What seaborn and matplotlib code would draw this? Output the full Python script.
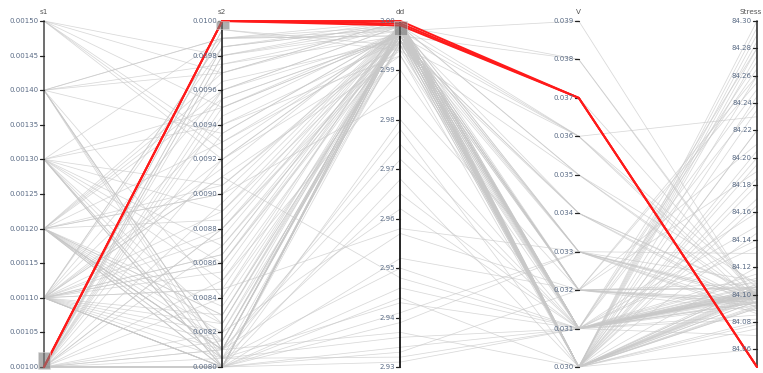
import numpy as np
import pandas as pd
import matplotlib
matplotlib.use("Agg")
import matplotlib.pyplot as plt
from matplotlib.patches import Rectangle
import seaborn as sns

# Ejes (dimensiones) del gráfico de coordenadas paralelas
dims = ["s1", "s2", "dd", "V", "Stress"]
dominios = {
    "s1": (0.0010, 0.0015),
    "s2": (0.0080, 0.0100),
    "dd": (2.93, 3.00),
    "V": (0.030, 0.039),
    "Stress": (84.047, 84.30),
}
ticks = {
    "s1": [0.00100, 0.00105, 0.00110, 0.00115, 0.00120, 0.00125, 0.00130, 0.00135, 0.00140, 0.00145, 0.00150],
    "s2": [0.0080, 0.0082, 0.0084, 0.0086, 0.0088, 0.0090, 0.0092, 0.0094, 0.0096, 0.0098, 0.0100],
    "dd": [2.93, 2.94, 2.95, 2.96, 2.97, 2.98, 2.99, 3.00],
    "V": [0.030, 0.031, 0.032, 0.033, 0.034, 0.035, 0.036, 0.037, 0.038, 0.039],
    "Stress": [84.06, 84.08, 84.10, 84.12, 84.14, 84.16, 84.18, 84.20, 84.22, 84.24, 84.26, 84.28, 84.30],
}
formatos = {"s1": "{:.5f}", "s2": "{:.4f}", "dd": "{:.2f}", "V": "{:.3f}", "Stress": "{:.2f}"}

# Datos (líneas grises)
s1 = [
    0.0010, 0.0011, 0.0012, 0.0010, 0.0013, 0.0011, 0.0014, 0.0010, 0.0012, 0.0015,
    0.0011, 0.0010, 0.0013, 0.0012, 0.0011, 0.0010, 0.0014, 0.0012, 0.0011, 0.0010,
    0.0013, 0.0010, 0.0012, 0.0011, 0.0015, 0.0010, 0.0012, 0.0014, 0.0011, 0.0013,
    0.0010, 0.0011, 0.0012, 0.0010, 0.0014, 0.0011, 0.0013, 0.0012, 0.0010, 0.0011,
    0.0015, 0.0012, 0.0010, 0.0011, 0.0013, 0.0014, 0.0010, 0.0012, 0.0011, 0.0010,
    0.0012, 0.0013, 0.0011, 0.0010, 0.0014, 0.0012, 0.0011, 0.0015, 0.0010, 0.0013,
    0.0011, 0.0010, 0.0012, 0.0014, 0.0011, 0.0013, 0.0010, 0.0012, 0.0011, 0.0015,
    0.0010, 0.0012, 0.0011, 0.0013, 0.0010, 0.0014, 0.0011, 0.0012, 0.0010, 0.0011,
    0.0011, 0.0010, 0.0012, 0.0013, 0.0010, 0.0011, 0.0012, 0.0014, 0.0010, 0.0011,
    0.0012, 0.0010, 0.0011, 0.0013, 0.0012, 0.0010, 0.0011, 0.0015, 0.0012, 0.0010,
    0.0011, 0.0013, 0.0010, 0.0012, 0.0011, 0.0014, 0.0010, 0.0012, 0.0011, 0.0010,
    0.0013, 0.0011, 0.0012, 0.0010, 0.0011, 0.0012, 0.0014, 0.0010, 0.0011, 0.0013,
]
s2 = [
    0.0080, 0.0099, 0.0081, 0.0095, 0.0080, 0.0088, 0.0097, 0.0082, 0.0080, 0.0093,
    0.0086, 0.0080, 0.0099, 0.0081, 0.0091, 0.0084, 0.0080, 0.0096, 0.0089, 0.0081,
    0.0080, 0.0098, 0.0083, 0.0080, 0.0092, 0.0087, 0.0081, 0.0099, 0.0080, 0.0094,
    0.0085, 0.0080, 0.0090, 0.0098, 0.0081, 0.0080, 0.0095, 0.0082, 0.0088, 0.0080,
    0.0097, 0.0081, 0.0092, 0.0080, 0.0086, 0.0099, 0.0080, 0.0083, 0.0094, 0.0081,
    0.0080, 0.0089, 0.0096, 0.0080, 0.0084, 0.0081, 0.0091, 0.0098, 0.0080, 0.0087,
    0.0082, 0.0080, 0.0093, 0.0081, 0.0099, 0.0085, 0.0080, 0.0090, 0.0081, 0.0095,
    0.0080, 0.0097, 0.0083, 0.0080, 0.0088, 0.0081, 0.0092, 0.0080, 0.0096, 0.0086,
    0.00815, 0.00975, 0.00805, 0.00905, 0.00985, 0.00845, 0.00825, 0.00935, 0.00995, 0.00865,
    0.00805, 0.00955, 0.00875, 0.00815, 0.00965, 0.00895, 0.00805, 0.00925, 0.00835, 0.00985,
    0.00855, 0.00805, 0.00945, 0.00815, 0.00915, 0.00975, 0.00805, 0.00885, 0.00825, 0.00995,
    0.00805, 0.00865, 0.00955, 0.00815, 0.00845, 0.00905, 0.00805, 0.00935, 0.00985, 0.00825,
]
dd = [
    2.999, 2.998, 2.937, 2.997, 2.999, 2.996, 3.000, 2.962, 2.998, 2.995,
    2.999, 2.944, 2.997, 2.998, 2.993, 3.000, 2.931, 2.999, 2.996, 2.975,
    2.998, 2.999, 2.997, 2.952, 2.994, 2.998, 2.999, 3.000, 2.968, 2.996,
    2.997, 2.999, 2.985, 2.998, 2.999, 2.934, 2.997, 2.995, 2.999, 2.998,
    3.000, 2.957, 2.998, 2.999, 2.996, 2.997, 2.941, 2.999, 2.993, 2.998,
    2.980, 2.999, 2.997, 2.998, 2.995, 2.999, 2.948, 3.000, 2.998, 2.996,
    2.999, 2.933, 2.997, 2.998, 2.999, 2.990, 2.996, 2.999, 2.972, 2.998,
    2.939, 2.999, 2.997, 2.998, 2.995, 2.999, 2.998, 2.946, 2.999, 2.997,
    2.998, 2.999, 2.996, 2.997, 3.000, 2.958, 2.999, 2.998, 2.994, 2.999,
    2.936, 2.997, 2.999, 2.998, 2.996, 2.999, 2.965, 2.998, 2.997, 2.999,
    2.999, 2.943, 2.998, 2.996, 2.999, 2.997, 2.978, 2.999, 2.998, 2.995,
    2.932, 2.999, 2.997, 2.998, 2.999, 2.996, 2.950, 2.998, 2.999, 2.997,
]
V = [
    0.031, 0.030, 0.030, 0.032, 0.031, 0.033, 0.030, 0.031, 0.034, 0.030,
    0.031, 0.030, 0.036, 0.032, 0.031, 0.030, 0.031, 0.035, 0.030, 0.031,
    0.033, 0.031, 0.030, 0.032, 0.031, 0.030, 0.038, 0.031, 0.030, 0.034,
    0.030, 0.031, 0.032, 0.030, 0.033, 0.031, 0.030, 0.031, 0.036, 0.030,
    0.031, 0.032, 0.030, 0.035, 0.031, 0.030, 0.033, 0.031, 0.030, 0.039,
    0.031, 0.030, 0.032, 0.031, 0.034, 0.030, 0.031, 0.030, 0.033, 0.031,
    0.030, 0.032, 0.031, 0.030, 0.037, 0.031, 0.030, 0.032, 0.031, 0.030,
    0.033, 0.031, 0.030, 0.031, 0.036, 0.030, 0.032, 0.031, 0.030, 0.031,
    0.030, 0.031, 0.032, 0.030, 0.031, 0.033, 0.030, 0.031, 0.035, 0.030,
    0.031, 0.032, 0.030, 0.031, 0.034, 0.030, 0.031, 0.030, 0.032, 0.031,
    0.030, 0.031, 0.036, 0.030, 0.031, 0.033, 0.030, 0.031, 0.032, 0.030,
    0.031, 0.030, 0.038, 0.031, 0.030, 0.032, 0.031, 0.030, 0.033, 0.031,
]
stress = [
    84.100, 84.280, 84.090, 84.105, 84.095, 84.110, 84.220, 84.085, 84.100, 84.300,
    84.098, 84.120, 84.092, 84.260, 84.102, 84.080, 84.150, 84.096, 84.108, 84.240,
    84.100, 84.094, 84.180, 84.104, 84.070, 84.290, 84.098, 84.112, 84.200, 84.090,
    84.102, 84.270, 84.096, 84.106, 84.088, 84.160, 84.100, 84.094, 84.230, 84.099,
    84.101, 84.190, 84.092, 84.108, 84.250, 84.097, 84.086, 84.140, 84.103, 84.095,
    84.110, 84.075, 84.210, 84.099, 84.093, 84.285, 84.104, 84.091, 84.130, 84.100,
    84.170, 84.097, 84.082, 84.106, 84.098, 84.265, 84.101, 84.094, 84.115, 84.245,
    84.096, 84.103, 84.060, 84.099, 84.105, 84.195, 84.092, 84.100, 84.275, 84.097,
    84.095, 84.102, 84.255, 84.090, 84.104, 84.098, 84.220, 84.100, 84.093, 84.165,
    84.106, 84.088, 84.098, 84.280, 84.101, 84.095, 84.135, 84.099, 84.108, 84.092,
    84.235, 84.100, 84.097, 84.185, 84.103, 84.091, 84.295, 84.099, 84.105, 84.078,
    84.100, 84.205, 84.096, 84.102, 84.145, 84.094, 84.107, 84.260, 84.098, 84.101,
]

# Líneas seleccionadas (rojas)
red_s1 = [0.0010, 0.0010, 0.0010]
red_s2 = [0.0100, 0.0100, 0.0100]
red_dd = [3.000, 2.9995, 2.9991]
red_V = [0.037, 0.037, 0.037]
red_stress = [84.047, 84.047, 84.047]

# Rangos de selección (brush) por eje
brushes = {"s1": (0.00100, 0.001021), "s2": (0.00996, 0.0100), "dd": (2.9974, 3.000)}


def normalizar(col, valores):
    lo, hi = dominios[col]
    return (np.asarray(valores, dtype=float) - lo) / (hi - lo)


def a_largo(columnas, grupo):
    filas = []
    for i, fila in enumerate(zip(*columnas)):
        for j, (d, v) in enumerate(zip(dims, fila)):
            filas.append({"id": f"{grupo}{i}", "pos": j, "y": float(normalizar(d, [v])[0])})
    return pd.DataFrame(filas)


df_gris = a_largo([s1, s2, dd, V, stress], "g")
df_rojo = a_largo([red_s1, red_s2, red_dd, red_V, red_stress], "r")

sns.set_style("white")
plt.rcParams['font.family'] = ['DejaVu Sans']

W, H = 763, 373
fig = plt.figure(figsize=(W / 100, H / 100), dpi=100)
ax = fig.add_axes([0, 0, 1, 1])

# Conversión pixel -> datos
x0_px, paso_px = 44, 178.25
top_px, bot_px = 21, 367
ax.set_xlim(-x0_px / paso_px, (W - x0_px) / paso_px)
alto = bot_px - top_px
ax.set_ylim(-(H - bot_px) / alto, 1 + top_px / alto)
px_x = 1 / paso_px
px_y = 1 / alto

sns.lineplot(data=df_gris, x="pos", y="y", units="id", estimator=None, sort=False,
             color="#c8c8c8", linewidth=0.55, alpha=0.7, ax=ax, zorder=1)
sns.lineplot(data=df_rojo, x="pos", y="y", units="id", estimator=None, sort=False,
             color="#ff1a1a", linewidth=1.4, ax=ax, zorder=4)

color_eje = {"s1": "#555555", "s2": "#222222", "dd": "#000000", "V": None, "Stress": "#333333"}
for j, d in enumerate(dims):
    if color_eje[d] is not None:
        ax.plot([j, j], [0, 1], color=color_eje[d], lw=1.2, zorder=3)
    for t in ticks[d]:
        yv = float(normalizar(d, [t])[0])
        ax.plot([j - 4 * px_x, j], [yv, yv], color="#222222", lw=0.9, zorder=3)
        ax.text(j - 5 * px_x, yv, formatos[d].format(t), ha="right", va="center",
                fontsize=5, color="#5a6b85", zorder=5)
    # el último título se alinea a la derecha para que quepa en el borde
    if j == len(dims) - 1:
        ax.text(j + 5 * px_x, 1 + 9 * px_y, d, ha="right", va="center", fontsize=5.2,
                color="#555555", zorder=5)
    else:
        ax.text(j, 1 + 9 * px_y, d, ha="center", va="center", fontsize=5.2, color="#555555", zorder=5)

# Rectángulos de selección
for j, d in enumerate(dims):
    if d in brushes:
        lo, hi = normalizar(d, brushes[d])
        ax.add_patch(Rectangle((j - 6 * px_x, lo - 1.5 * px_y), 12.5 * px_x, (hi - lo) + 2 * px_y,
                               facecolor="#7a7a7a", alpha=0.6, edgecolor="#dddddd", lw=0.6, zorder=6))

ax.set_axis_off()
ax.set_xlabel("")
ax.set_ylabel("")
plt.savefig("out.png", dpi=100)
